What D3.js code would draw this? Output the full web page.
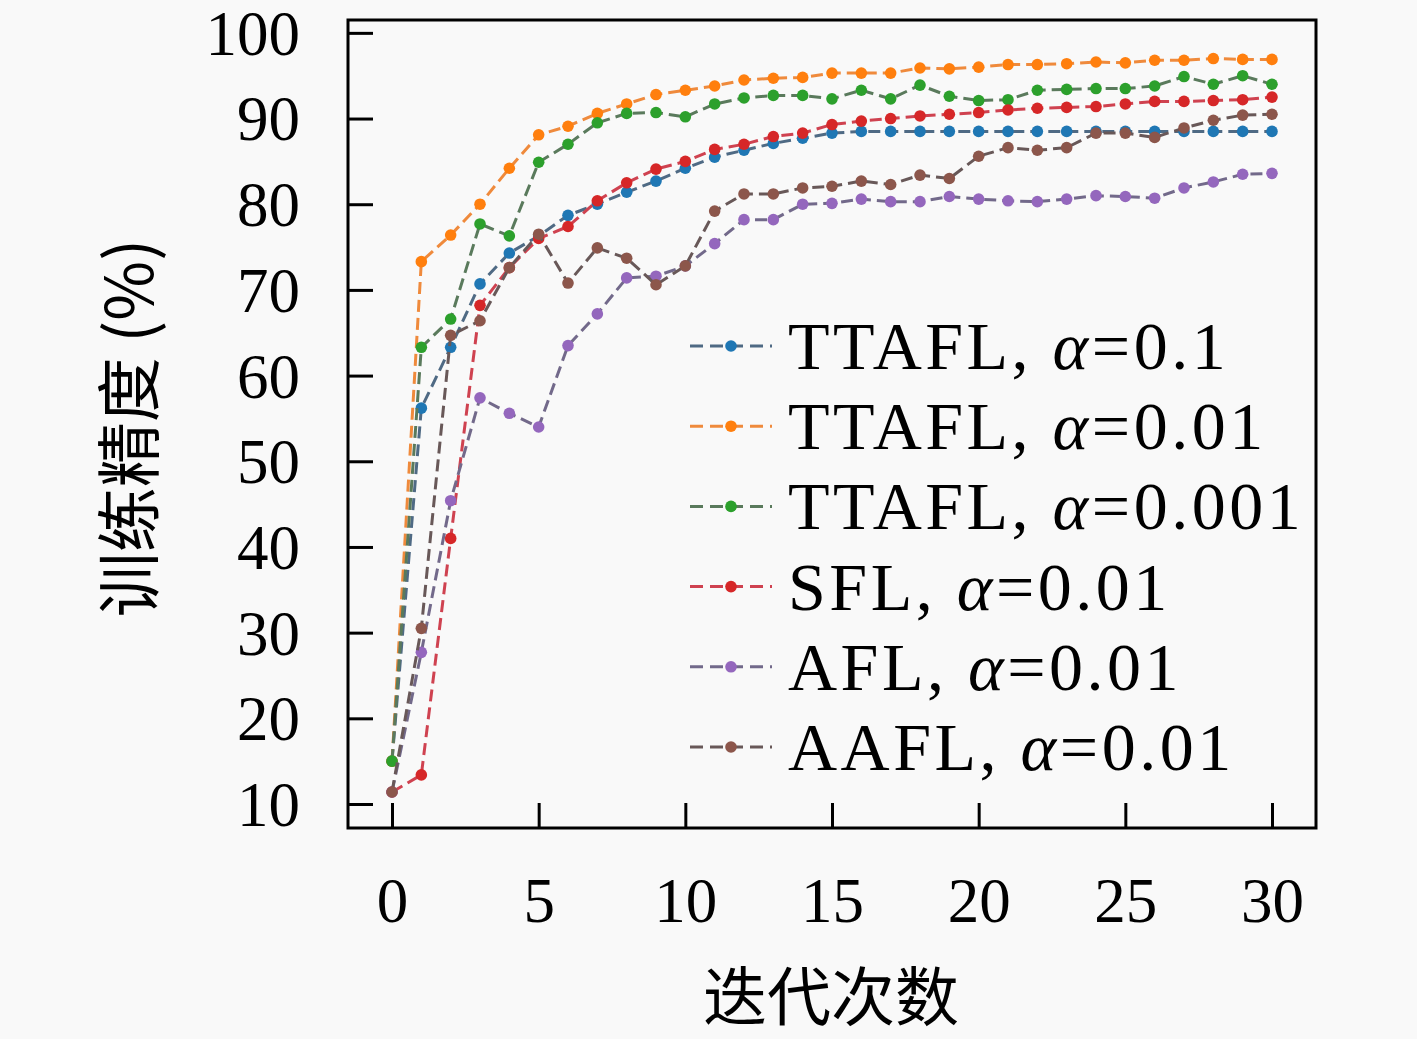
<!DOCTYPE html>
<html>
<head>
<meta charset="utf-8">
<script src="https://cdn.jsdelivr.net/npm/d3@7"></script>
<style>
  html, body { margin: 0; padding: 0; background: #f9f9f9; }
  svg { display: block; }
</style>
</head>
<body>
<svg id="chart" width="1417" height="1039"></svg>
<script>
// ---------- data ----------
const iterations = [0,1,2,3,4,5,6,7,8,9,10,11,12,13,14,15,16,17,18,19,20,21,22,23,24,25,26,27,28,29,30];
const seriesNames = ["TTAFL, α=0.1", "TTAFL, α=0.01", "TTAFL, α=0.001", "SFL, α=0.01", "AFL, α=0.01", "AAFL, α=0.01"];
const ttaflA01   = [15.0, 56.2, 63.3, 70.7, 74.3, 76.3, 78.7, 80.0, 81.4, 82.7, 84.2, 85.5, 86.3, 87.1, 87.7, 88.3, 88.5, 88.5, 88.5, 88.5, 88.5, 88.5, 88.5, 88.5, 88.5, 88.5, 88.5, 88.5, 88.5, 88.5, 88.5];
const ttaflA001  = [15.0, 73.3, 76.4, 80.0, 84.2, 88.1, 89.1, 90.6, 91.7, 92.8, 93.3, 93.8, 94.5, 94.7, 94.8, 95.3, 95.3, 95.3, 95.9, 95.8, 96.0, 96.3, 96.3, 96.4, 96.6, 96.5, 96.8, 96.8, 97.0, 96.9, 96.9];
const ttaflA0001 = [15.0, 63.3, 66.6, 77.7, 76.3, 84.9, 87.0, 89.5, 90.6, 90.7, 90.2, 91.7, 92.4, 92.7, 92.7, 92.3, 93.3, 92.3, 93.9, 92.6, 92.1, 92.2, 93.3, 93.4, 93.5, 93.5, 93.8, 94.9, 94.0, 95.0, 94.0];
const sflA001    = [11.4, 13.4, 41.0, 68.2, 72.6, 76.0, 77.4, 80.4, 82.5, 84.1, 85.0, 86.4, 87.0, 87.9, 88.3, 89.3, 89.7, 90.0, 90.3, 90.5, 90.7, 91.0, 91.2, 91.3, 91.4, 91.7, 92.0, 92.0, 92.1, 92.2, 92.5];
const aflA001    = [11.4, 27.7, 45.4, 57.4, 55.6, 54.0, 63.5, 67.2, 71.4, 71.6, 72.8, 75.4, 78.2, 78.2, 80.0, 80.1, 80.6, 80.3, 80.3, 80.9, 80.6, 80.4, 80.3, 80.6, 81.0, 80.9, 80.7, 81.9, 82.6, 83.5, 83.6];
const aaflA001   = [11.4, 30.5, 64.7, 66.4, 72.6, 76.5, 70.8, 74.9, 73.7, 70.6, 72.8, 79.2, 81.2, 81.2, 81.9, 82.1, 82.7, 82.3, 83.4, 83.0, 85.6, 86.6, 86.3, 86.6, 88.3, 88.3, 87.8, 88.9, 89.8, 90.4, 90.5];
const xTicks = [0, 5, 10, 15, 20, 25, 30];
const yTicks = [10, 20, 30, 40, 50, 60, 70, 80, 90, 100];
const xLabel = "迭代次数";
const yLabel = "训练精度 (%)";

const allValues = [ttaflA01, ttaflA001, ttaflA0001, sflA001, aflA001, aaflA001];

// ---------- styles ----------
const markerColors = ["#1f77b4", "#ff7f0e", "#2ca02c", "#d62728", "#9467bd", "#8c564b"];
const lineColors   = ["#4f6a84", "#ef8a3c", "#5a7a5c", "#cf4250", "#72698a", "#685858"];

const svg = d3.select("#chart");
const plot = { left: 348, right: 1316, top: 20, bottom: 828 };

const x = d3.scaleLinear().domain([-1.5, 31.5]).range([plot.left, plot.right]);
const y = d3.scaleLinear().domain([7.2, 101.5]).range([plot.bottom, plot.top]);

const serif = "'Liberation Serif', 'DejaVu Serif', serif";
const cjk = "'Noto Sans CJK SC', 'Noto Sans CJK JP', sans-serif";

svg.append("defs").append("clipPath").attr("id", "clip")
  .append("rect").attr("x", plot.left).attr("y", plot.top)
  .attr("width", plot.right - plot.left).attr("height", plot.bottom - plot.top);

const g = svg.append("g").attr("clip-path", "url(#clip)");

const line = d3.line().x((d, i) => x(iterations[i])).y(d => y(d));

allValues.forEach((vals, k) => {
  g.append("path")
    .datum(vals)
    .attr("d", line)
    .attr("fill", "none")
    .attr("stroke", lineColors[k])
    .attr("stroke-width", 3)
    .attr("stroke-dasharray", "12,6");
  g.selectAll(null)
    .data(vals)
    .enter().append("circle")
    .attr("cx", (d, i) => x(iterations[i]))
    .attr("cy", d => y(d))
    .attr("r", 5.8)
    .attr("fill", markerColors[k]);
});

// axes (ticks inward)
const xAxis = d3.axisBottom(x).tickValues(xTicks).tickSize(-25).tickPadding(50).tickFormat(d3.format("d"));
const yAxis = d3.axisLeft(y).tickValues(yTicks).tickSize(-25).tickPadding(48).tickFormat(d3.format("d"));

const gx = svg.append("g").attr("transform", `translate(0,${plot.bottom})`).call(xAxis);
const gy = svg.append("g").attr("transform", `translate(${plot.left},0)`).call(yAxis);
[gx, gy].forEach(a => {
  a.select(".domain").remove();
  a.selectAll(".tick line").attr("stroke", "#000").attr("stroke-width", 3);
  a.selectAll(".tick text").attr("fill", "#000").style("font-family", serif).style("font-size", "63px");
});
gx.selectAll(".tick text").attr("dy", "0.7em");
gy.selectAll(".tick text").attr("dy", "0.34em");

// frame
svg.append("rect")
  .attr("x", plot.left).attr("y", plot.top)
  .attr("width", plot.right - plot.left).attr("height", plot.bottom - plot.top)
  .attr("fill", "none").attr("stroke", "#000").attr("stroke-width", 3);

// axis labels
svg.append("text")
  .attr("x", (plot.left + plot.right) / 2 - 1).attr("y", 1020)
  .attr("text-anchor", "middle")
  .style("font-family", cjk).style("font-size", "64px").attr("fill", "#000")
  .text(xLabel);

svg.append("text")
  .attr("transform", `translate(153, 428) rotate(-90)`)
  .attr("text-anchor", "middle")
  .style("font-family", cjk).style("font-size", "65px").attr("fill", "#000")
  .text(yLabel);

// legend
const legY0 = 346, legStep = 80.2;
const leg = svg.append("g");
seriesNames.forEach((name, k) => {
  const yy = legY0 + k * legStep;
  leg.append("line")
    .attr("x1", 690).attr("x2", 772).attr("y1", yy).attr("y2", yy)
    .attr("stroke", lineColors[k]).attr("stroke-width", 3)
    .attr("stroke-dasharray", "13,7");
  leg.append("circle").attr("cx", 731).attr("cy", yy).attr("r", 5.8).attr("fill", markerColors[k]);
  const parts = name.split("α");
  const t = leg.append("text")
    .attr("x", 788).attr("y", yy + 23)
    .style("font-family", serif).style("font-size", "68px")
    .style("letter-spacing", "3.5px").attr("fill", "#000");
  t.append("tspan").text(parts[0]);
  t.append("tspan").style("font-style", "italic").text("α");
  t.append("tspan").text(parts[1]);
});
</script>
</body>
</html>
